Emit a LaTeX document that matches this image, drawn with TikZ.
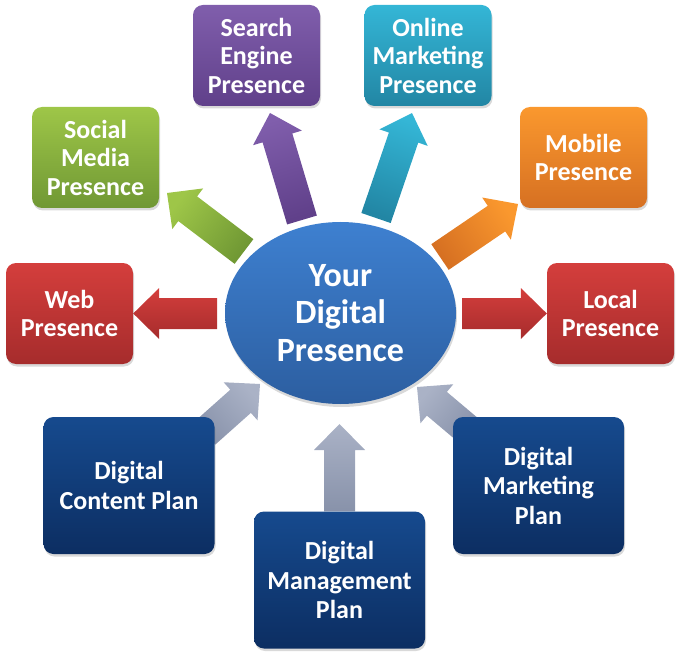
\documentclass[tikz,border=0pt]{standalone}
\usepackage{fontspec}
\setmainfont{Carlito}
\usetikzlibrary{calc,shapes.geometric,shadows}
\pgfdeclarelayer{bg}
\pgfsetlayers{bg,main}
\definecolor{purT}{RGB}{128,94,172}
\definecolor{purB}{RGB}{96,64,138}
\definecolor{cyaT}{RGB}{52,182,214}
\definecolor{cyaB}{RGB}{34,134,164}
\definecolor{greT}{RGB}{158,198,72}
\definecolor{greB}{RGB}{112,152,52}
\definecolor{oraT}{RGB}{250,152,46}
\definecolor{oraB}{RGB}{214,112,34}
\definecolor{redT}{RGB}{212,62,60}
\definecolor{redB}{RGB}{166,44,44}
\definecolor{bluT}{RGB}{22,74,142}
\definecolor{bluB}{RGB}{12,46,98}
\definecolor{ellT}{RGB}{62,128,208}
\definecolor{ellB}{RGB}{44,94,160}
\definecolor{gryT}{RGB}{170,178,198}
\definecolor{gryB}{RGB}{136,146,170}
\newcommand{\blockarr}[4]{%
  \coordinate (#4hb) at ($(#2)!26pt!(#1)$);
  \path[#3] ($(#1)!15.5pt!90:(#2)$) -- ($(#4hb)!15.5pt!90:(#2)$)
    -- ($(#4hb)!25.5pt!90:(#2)$) -- (#2) -- ($(#4hb)!25.5pt!-90:(#2)$)
    -- ($(#4hb)!15.5pt!-90:(#2)$) -- ($(#1)!15.5pt!-90:(#2)$) -- cycle;}
\tikzset{
  box/.style={rectangle, rounded corners=10pt, minimum width=127pt,
    minimum height=101pt, inner sep=0pt, text=white, align=center,
    font=\bfseries\fontsize{26}{28.5}\selectfont,
    drop shadow={shadow xshift=1pt, shadow yshift=-2.5pt, opacity=0.3}},
  planbox/.style={box, minimum width=171pt, minimum height=137pt,
    top color=bluT, bottom color=bluB,
    font=\bfseries\fontsize{26}{29.5}\selectfont},
  purbox/.style={box, top color=purT, bottom color=purB},
  cyabox/.style={box, top color=cyaT, bottom color=cyaB},
  grebox/.style={box, top color=greT, bottom color=greB},
  orabox/.style={box, top color=oraT, bottom color=oraB},
  redbox/.style={box, top color=redT, bottom color=redB},
  centre/.style={ellipse, minimum width=231pt, minimum height=182pt,
    inner sep=0pt, top color=ellT, bottom color=ellB, text=white,
    align=center, font=\bfseries\fontsize{34}{37.5}\selectfont,
    drop shadow={shadow xshift=1pt, shadow yshift=-3pt, opacity=0.3}},
  purarr/.style={top color=purT, bottom color=purB},
  cyaarr/.style={top color=cyaT, bottom color=cyaB},
  grearr/.style={top color=greT, bottom color=greB},
  oraarr/.style={top color=oraT, bottom color=oraB},
  redarr/.style={top color=redT, bottom color=redB},
  gryarr/.style={top color=gryT, bottom color=gryB}
}
\begin{document}
\begin{tikzpicture}[x=1pt, y=-1pt]
\useasboundingbox (0,0) rectangle (680,655);
% nodes
\node[centre] (hub) at (340.5,313) {Your\\Digital\\Presence};
\node[purbox] (search) at (256.5,55.5) {Search\\Engine\\Presence};
\node[cyabox] (online) at (428,55.5) {Online\\Marketing\\Presence};
\node[grebox] (social) at (95.5,157.5) {Social\\Media\\Presence};
\node[orabox] (mobile) at (583.5,157.5) {Mobile\\Presence};
\node[redbox] (web) at (69.5,313.5) {Web\\Presence};
\node[redbox] (local) at (610.5,313.5) {Local\\Presence};
\node[planbox] (content) at (129,485.5) {Digital\\Content Plan};
\node[planbox] (mgmt) at (339.5,580) {Digital\\Management\\Plan};
\node[planbox] (market) at (538.5,485.5) {Digital\\Marketing\\Plan};
% arrow end points
\coordinate (webT) at (217,313.5);
\coordinate (localT) at (462,313.5);
\coordinate (socialT) at (244,251.5);
\coordinate (socialP) at (167,193);
\coordinate (searchT) at (302,220);
\coordinate (searchP) at (270,113);
\coordinate (onlineT) at (376,218);
\coordinate (onlineP) at (412,113);
\coordinate (mobileT) at (440,257);
\coordinate (mobileP) at (518,204);
\coordinate (contentT) at (205,433);
\coordinate (contentP) at (260,384);
\coordinate (mgmtP) at (339.5,424);
\coordinate (marketT) at (468,430);
\coordinate (marketP) at (417,387);
\begin{pgfonlayer}{bg}
\blockarr{webT}{web.east}{redarr}{wa}
\blockarr{localT}{local.west}{redarr}{la}
\blockarr{socialT}{socialP}{grearr, shading angle=52.5}{sa}
\blockarr{searchT}{searchP}{purarr, shading angle=16.7}{sea}
\blockarr{onlineT}{onlineP}{cyaarr, shading angle=-19}{oa}
\blockarr{mobileT}{mobileP}{oraarr, shading angle=-56}{ma}
\blockarr{contentT}{contentP}{gryarr, shading angle=-48}{ca}
\blockarr{mgmt.north}{mgmtP}{gryarr}{mga}
\blockarr{marketT}{marketP}{gryarr, shading angle=50}{mka}
\end{pgfonlayer}
\end{tikzpicture}
\end{document}
